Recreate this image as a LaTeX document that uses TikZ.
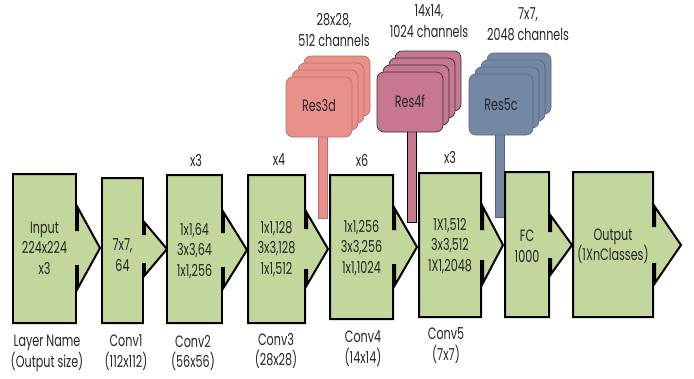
\documentclass[tikz,border=0pt]{standalone}
\usepackage{fontspec}
\setmainfont{Poppins}[FakeStretch=0.68]
\definecolor{boxgreen}{HTML}{C3D69B}
\definecolor{salmon}{HTML}{E8918A}
\definecolor{salmonline}{HTML}{B9706A}
\definecolor{rose}{HTML}{C7788F}
\definecolor{slate}{HTML}{7488A4}
\definecolor{slateline}{HTML}{56677E}
\tikzset{
  blk/.style={draw=black, line width=2pt, fill=boxgreen, line join=miter},
  txt/.style={font=\fontsize{16.5}{20.5}\selectfont, align=center, inner sep=0pt, text=black!85},
  captxt/.style={font=\fontsize{16.5}{21}\selectfont, align=center, inner sep=0pt, text=black!85},
  card/.style={rounded corners=7bp, line width=0.7pt},
}
\newcommand\arrowblock[8]{%
  \draw[blk] (#1,#2) -- (#3,#2) -- (#3,#6-#8) -- (#3+2,#6-#8) -- (#3+2,#6-#7) -- (#5,#6)
    -- (#3+2,#6+#7) -- (#3+2,#6+#8) -- (#3,#6+#8) -- (#3,#4) -- (#1,#4) -- cycle;}
\newcommand\cardstack[6]{% L T R B fill draw
  \foreach \k in {3,2,1,0}{
    \draw[card, fill=#5, draw=#6] (#1+6*\k,#2-7*\k) rectangle (#3+6*\k,#4-7*\k);
  }}
\begin{document}
\begin{tikzpicture}[x=1bp,y=-1bp]
\useasboundingbox[fill=white] (0,0) rectangle (694,378);
% stems
\draw[fill=salmon, draw=salmonline, line width=0.5pt] (318,130) rectangle (327,218);
\draw[fill=rose, draw=black, line width=0.7pt] (407,125) rectangle (416,222);
\draw[fill=slate, draw=slateline, line width=0.5pt] (495,128) rectangle (504,217);
% card stacks
\cardstack{286}{77}{352}{137}{salmon}{salmonline}
\cardstack{377}{72}{443}{132}{rose}{black!80}
\cardstack{469}{74}{533}{135}{slate}{slateline}
\node[txt] (res3d) at (319,105) {Res3d};
\node[txt] (res4f) at (410,101) {Res4f};
\node[txt] (res5c) at (501,105) {Res5c};
\node[captxt] (lab3) at (334,30) {28x28,\\512 channels};
\node[captxt] (lab4) at (429,21) {14x14,\\1024 channels};
\node[captxt] (lab5) at (528,24.5) {7x7,\\2048 channels};
% blocks
\arrowblock{13}{174}{76}{323}{100}{248}{40}{18}
\arrowblock{102}{178}{143}{323}{167}{249}{26}{15}
\arrowblock{167}{175}{222}{323}{247}{250}{37}{18}
\arrowblock{248}{175}{305}{323}{328}{249}{36}{21}
\arrowblock{330}{175}{393}{319}{417}{247}{38}{18}
\arrowblock{419}{173}{481}{317}{503}{245}{38}{16}
\arrowblock{505}{172}{549}{317}{572}{245}{29}{14}
\arrowblock{573}{172}{653}{317}{681}{245}{38}{19}
% block texts
\node[txt] (input) at (44.5,248) {Input\\224x224\\x3};
\node[txt] (conv1) at (122.5,255) {7x7,\\64};
\node[txt] (conv2) at (194.5,251) {1x1,64\\3x3,64\\1x1,256};
\node[txt] (conv3) at (276.5,249) {1x1,128\\3x3,128\\1x1,512};
\node[txt] (conv4) at (361.5,248) {1x1,256\\3x3,256\\1x1,1024};
\node[txt] (conv5) at (450,246) {1X1,512\\3x3,512\\1X1,2048};
\node[txt] (fc) at (527,246) {FC\\1000};
\node[txt] (out) at (613,246) {Output\\(1XnClasses)};
% repeat labels
\node[txt] (r2) at (196,160) {x3};
\node[txt] (r3) at (279,160) {x4};
\node[txt] (r4) at (362,160) {x6};
\node[txt] (r5) at (450,157) {x3};
% bottom labels
\node[captxt] (b0) at (47,353) {Layer Name\\(Output size)};
\node[captxt] (b1) at (126,353) {Conv1\\(112x112)};
\node[captxt] (b2) at (193,353) {Conv2\\(56x56)};
\node[captxt] (b3) at (276,351) {Conv3\\(28x28)};
\node[captxt] (b4) at (363,349) {Conv4\\(14x14)};
\node[captxt] (b5) at (446,346) {Conv5\\(7x7)};
\end{tikzpicture}
\end{document}
